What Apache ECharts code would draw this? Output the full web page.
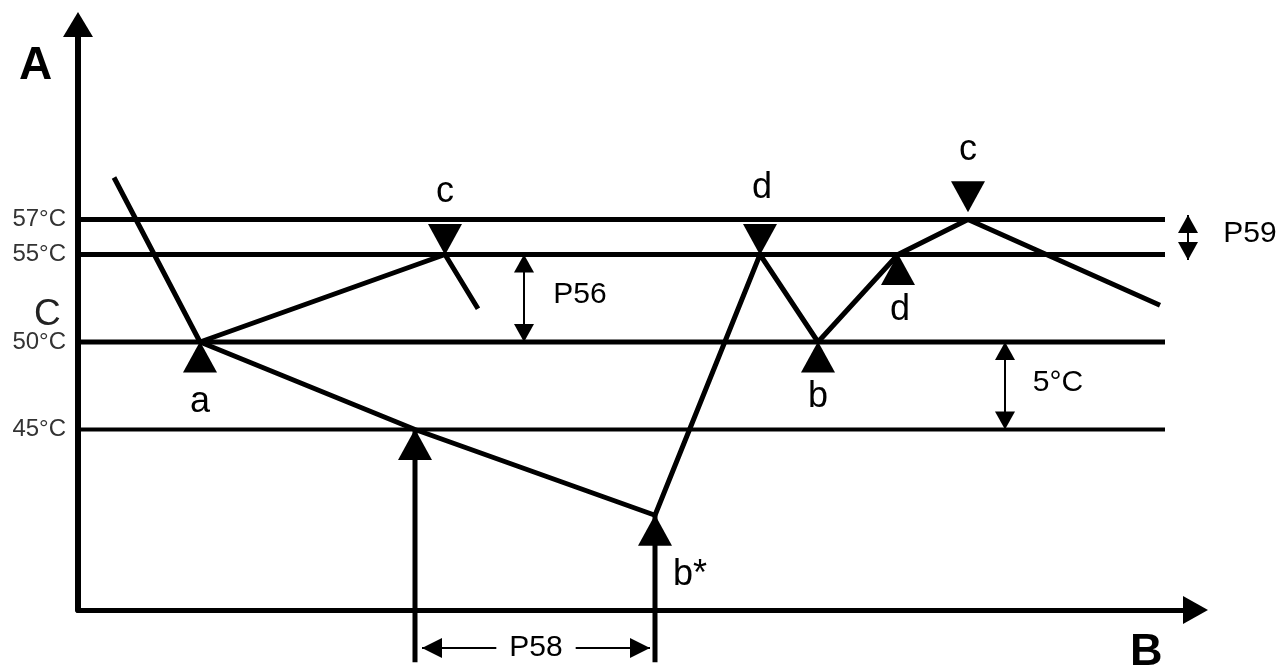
<!DOCTYPE html>
<html>
<head>
<meta charset="utf-8">
<script src="https://cdn.jsdelivr.net/npm/echarts@6/dist/echarts.min.js"></script>
<style>
html, body { margin: 0; background: #fff; }
#chart { width: 1277px; height: 667px; }
</style>
</head>
<body>
<div id="chart"></div>
<script>
// temperature levels (°C), drawn as horizontal lines
var levels = [57, 55, 50, 45];
var levelEnd = 1087;
// labels on the temperature axis
var tickValues = [45, 50, 55, 57];
// main curve [time, °C]
var mainPath = [[36, 59.4], [122, 50], [337, 45], [577, 40.1], [682, 55], [740, 50], [820, 55], [890, 57], [1082, 52.1]];
// branch going up from a to c
var branchPath = [[122, 50], [367, 55], [400, 51.9]];
// triangle marks
var upMarks = [[122, 50], [337, 45], [577, 40.1], [740, 50], [820, 55]];
var downMarks = [[367, 55], [682, 55], [890, 57.45]];
// vertical arrows from below the axis [x, from, to]
var shafts = [[337, 31.7, 45], [577, 31.7, 40.1]];
// double arrows [x, top, bottom]
var dimArrows = [[446, 55, 50], [927, 50, 45], [1110, 57.26, 54.69]];
// P58 span [from, to, level]
var p58 = [344, 572, 32.51];
// letters [text, x, °C]
var letters = [['a', 122, 46.57], ['c', 367, 58.57], ['d', 684, 58.8], ['c', 890, 60.97],
               ['d', 822, 51.83], ['b', 740, 46.86], ['b*', 612, 36.7]];
var notes = [['P56', 502, 52.69], ['5°C', 980, 47.66], ['P59', 1172, 56.17]];

var yMin = 34.686, yMax = 68.143;
var font = 'Liberation Sans, Arial, sans-serif';

var myChart = echarts.init(document.getElementById('chart'));
var series = [];

levels.forEach(function (t) {
    series.push({
        type: 'line', silent: true, symbol: 'none',
        data: [[0, t], [levelEnd, t]],
        lineStyle: { color: '#000', width: t === 45 ? 4 : 5 }
    });
});

[mainPath, branchPath].forEach(function (p) {
    series.push({
        type: 'line', silent: true, symbol: 'none', data: p,
        lineStyle: { color: '#000', width: 5 }
    });
});

shafts.forEach(function (s) {
    series.push({
        type: 'line', silent: true, symbol: 'none', clip: false,
        data: [[s[0], s[1]], [s[0], s[2]]],
        lineStyle: { color: '#000', width: 5 }
    });
});

dimArrows.forEach(function (d) {
    series.push({
        type: 'line', silent: true, clip: false, showSymbol: true,
        data: [
            { value: [d[0], d[1]], symbol: 'triangle', symbolSize: [20, 18], symbolOffset: [0, 9] },
            { value: [d[0], d[2]], symbol: 'triangle', symbolSize: [20, 18], symbolRotate: 180, symbolOffset: [0, -9] }
        ],
        itemStyle: { color: '#000', opacity: 1 },
        lineStyle: { color: '#000', width: 2 }
    });
});

series.push({
    type: 'line', silent: true, clip: false, showSymbol: true,
    data: [
        { value: [p58[0], p58[2]], symbol: 'triangle', symbolSize: [20, 20], symbolRotate: 90, symbolOffset: [10, 0] },
        { value: [p58[1], p58[2]], symbol: 'triangle', symbolSize: [20, 20], symbolRotate: -90, symbolOffset: [-10, 0] }
    ],
    itemStyle: { color: '#000', opacity: 1 },
    lineStyle: { color: '#000', width: 2 }
});

series.push({
    type: 'scatter', silent: true, clip: false, z: 5,
    data: upMarks, symbol: 'triangle', symbolSize: [34, 31], symbolOffset: [0, 15],
    itemStyle: { color: '#000', opacity: 1 }
});
series.push({
    type: 'scatter', silent: true, clip: false, z: 5,
    data: downMarks, symbol: 'triangle', symbolSize: [34, 31], symbolRotate: 180, symbolOffset: [0, -15],
    itemStyle: { color: '#000', opacity: 1 }
});

// text labels
function textSeries(list, size, extra) {
    var label = { show: true, position: 'inside', formatter: '{b}', fontSize: size, color: '#000', fontFamily: font };
    for (var k in extra) label[k] = extra[k];
    return {
        type: 'scatter', silent: true, clip: false, z: 10,
        symbolSize: 1, itemStyle: { color: 'rgba(0,0,0,0)', opacity: 1 },
        data: list.map(function (l) { return { value: [l[1], l[2]], name: l[0] }; }),
        label: label
    };
}
series.push(textSeries(letters, 36, {}));
series.push(textSeries(notes, 30, {}));
series.push(textSeries([['P58', (p58[0] + p58[1]) / 2, p58[2]]], 30, { backgroundColor: '#fff', padding: [0, 13] }));

myChart.setOption({
    animation: false,
    backgroundColor: '#fff',
    grid: { left: 78, right: 81.5, top: 24.5, bottom: 57 },
    xAxis: {
        type: 'value', min: 0, max: 1117.5,
        splitLine: { show: false }, axisTick: { show: false }, axisLabel: { show: false },
        axisLine: {
            onZero: false, symbol: ['none', 'triangle'], symbolSize: [28, 25],
            lineStyle: { color: '#000', width: 5 }
        }
    },
    yAxis: {
        type: 'value', min: yMin, max: yMax,
        splitLine: { show: false }, axisTick: { show: false },
        axisLine: {
            show: true, onZero: false, symbol: ['none', 'triangle'], symbolSize: [30, 25],
            lineStyle: { color: '#000', width: 6 }
        },
        axisLabel: {
            customValues: tickValues,
            formatter: function (v) { return v + '°C'; },
            fontSize: 24, margin: 12, color: '#333', fontFamily: font
        }
    },
    graphic: [
        { type: 'text', left: 19, top: 43, style: { text: 'A', font: 'bold 46px ' + font, fill: '#000' } },
        { type: 'text', left: 1130, top: 630, style: { text: 'B', font: 'bold 45px ' + font, fill: '#000' } },
        { type: 'text', left: 34, top: 296, style: { text: 'C', font: '37px ' + font, fill: '#222' } }
    ],
    series: series
});
</script>
</body>
</html>
